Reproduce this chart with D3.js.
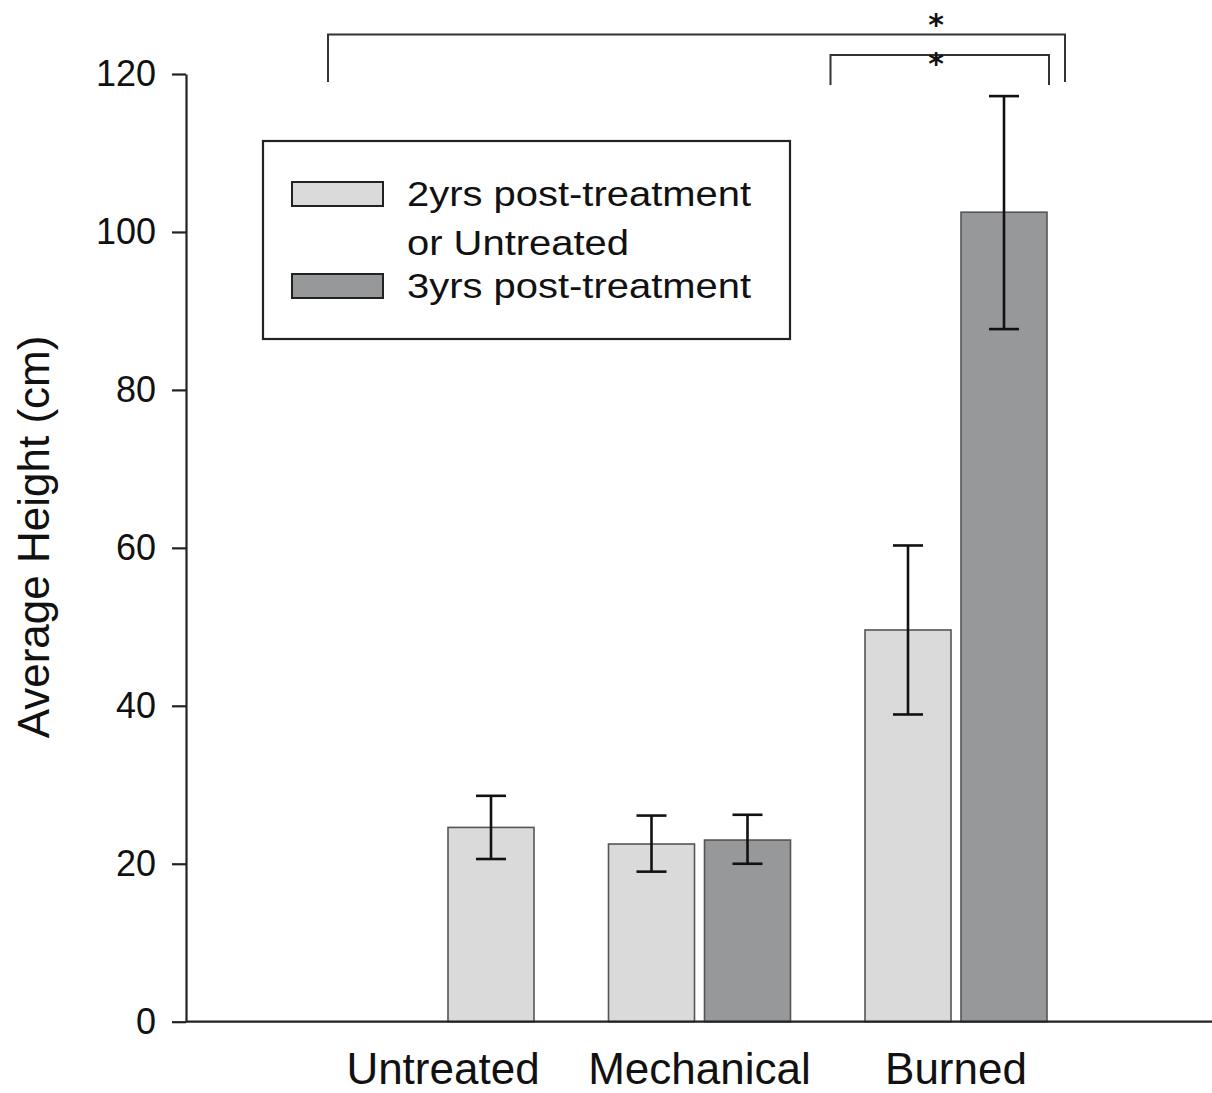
<!DOCTYPE html>
<html>
<head>
<meta charset="utf-8">
<script src="https://cdn.jsdelivr.net/npm/d3@7/dist/d3.min.js"></script>
<style>
html,body{margin:0;padding:0;background:#fff;}
text{font-family:"Liberation Sans",Arial,sans-serif;fill:#111;}
</style>
</head>
<body>
<svg id="chart" width="1212" height="1093"></svg>
<script>
// ---- data ----
const categories = ["Untreated", "Mechanical", "Burned"];
const seriesNames = ["2yrs post-treatment\nor Untreated", "3yrs post-treatment"];
// each bar: category, slot (0 left, 1 right), series index, mean, lower, upper
const barCategory = ["Untreated", "Mechanical", "Mechanical", "Burned", "Burned"];
const barSlot     = [1, 0, 1, 0, 1];
const barSeries   = [0, 0, 1, 0, 1];
const barMean     = [24.6, 22.5, 23.0, 49.6, 102.5];
const barLower    = [20.6, 19.0, 20.0, 38.9, 87.7];
const barUpper    = [28.6, 26.1, 26.2, 60.3, 117.2];
const yTicks      = [0, 20, 40, 60, 80, 100, 120];
const seriesColors = ["#d9dad9", "#97989a"];

const svg = d3.select("#chart");
const ff = '"Liberation Sans", Arial, sans-serif';

const y = d3.scaleLinear().domain([0, 120]).range([1021.7, 74]);
const x = d3.scalePoint().domain(categories).range([443, 956]);
const slot = d3.scaleBand().domain([0, 1]).range([-91, 91]).paddingInner(10 / 96);

// y axis
const yAxis = d3.axisLeft(y).tickValues(yTicks).tickSize(14).tickPadding(16).tickSizeOuter(0);
const yg = svg.append("g").attr("transform", "translate(186,0)").call(yAxis);
yg.select(".domain").attr("stroke", "#222").attr("stroke-width", 2.2);
yg.selectAll(".tick line").attr("stroke", "#222").attr("stroke-width", 2.2);
yg.selectAll(".tick text").attr("font-size", 36).attr("font-family", ff).attr("fill", "#111");

// y title
svg.append("text").attr("transform", "translate(49,537) rotate(-90)")
  .attr("text-anchor", "middle").attr("font-size", 44).text("Average Height (cm)");

// category labels
svg.selectAll("text.cat").data(categories).join("text").attr("class", "cat")
  .attr("x", d => x(d)).attr("y", 1084).attr("text-anchor", "middle")
  .attr("font-size", 44).text(d => d);

// bars
const bars = barMean.map((m, i) => ({
  cat: barCategory[i], slot: barSlot[i], s: barSeries[i], m, lo: barLower[i], hi: barUpper[i]
}));
svg.selectAll("rect.bar").data(bars).join("rect").attr("class", "bar")
  .attr("x", d => x(d.cat) + slot(d.slot))
  .attr("width", slot.bandwidth())
  .attr("y", d => y(d.m))
  .attr("height", d => y(0) - y(d.m))
  .attr("fill", d => seriesColors[d.s])
  .attr("stroke", "#555").attr("stroke-width", 1.6);

// x axis line
svg.append("line").attr("x1", 186).attr("x2", 1212)
  .attr("y1", y(0)).attr("y2", y(0)).attr("stroke", "#222").attr("stroke-width", 2.2);

// error bars
const eg = svg.append("g").attr("stroke", "#111").attr("stroke-width", 2.6);
bars.forEach(d => {
  const cx = x(d.cat) + slot(d.slot) + slot.bandwidth() / 2;
  eg.append("line").attr("x1", cx).attr("x2", cx).attr("y1", y(d.lo)).attr("y2", y(d.hi));
  eg.append("line").attr("x1", cx - 15).attr("x2", cx + 15).attr("y1", y(d.hi)).attr("y2", y(d.hi));
  eg.append("line").attr("x1", cx - 15).attr("x2", cx + 15).attr("y1", y(d.lo)).attr("y2", y(d.lo));
});

// significance brackets
const brackets = [
  {x1: x("Untreated") - 115, x2: x("Burned") + 109, top: 125, bottom: 119, star: 125.0},
  {x1: x("Mechanical") + 131, x2: x("Burned") + 93, top: 122.4, bottom: 118.6, star: 120.0}
];
brackets.forEach(b => {
  svg.append("path")
    .attr("d", `M${b.x1},${y(b.bottom)}V${y(b.top)}H${b.x2}V${y(b.bottom)}`)
    .attr("fill", "none").attr("stroke", "#333").attr("stroke-width", 2);
  svg.append("text").attr("x", x("Burned") - 20).attr("y", y(b.star))
    .attr("text-anchor", "middle").attr("font-size", 30).attr("font-weight", "bold")
    .style("font-family", '"DejaVu Sans", sans-serif').text("*");
});

// legend
const lg = svg.append("g");
lg.append("rect").attr("x", 263).attr("y", 141).attr("width", 527).attr("height", 198)
  .attr("fill", "#fff").attr("stroke", "#222").attr("stroke-width", 2.2);
const legendRows = [
  {s: 0, sy: 182, lines: seriesNames[0].split("\n"), ty: 206},
  {s: 1, sy: 274, lines: seriesNames[1].split("\n"), ty: 298}
];
legendRows.forEach(r => {
  lg.append("rect").attr("x", 292).attr("y", r.sy).attr("width", 91).attr("height", 24)
    .attr("fill", seriesColors[r.s]).attr("stroke", "#222").attr("stroke-width", 2);
  r.lines.forEach((t, i) => {
    lg.append("text").attr("transform", `translate(407,${r.ty + i * 49}) scale(1.11,1)`)
      .attr("font-size", 36).text(t);
  });
});
</script>
</body>
</html>
